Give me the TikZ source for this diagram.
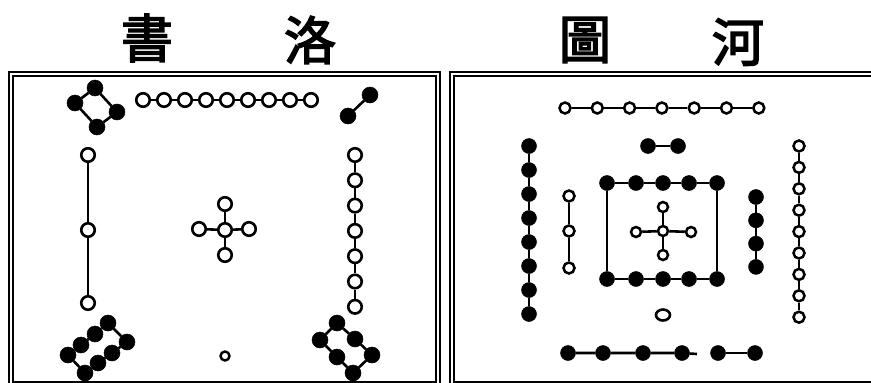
\documentclass[tikz,border=0pt]{standalone}
\usepackage{fontspec}
\usetikzlibrary{shapes.geometric}
\newfontfamily\cjk[AutoFakeBold=3]{Noto Sans CJK TC}
\tikzset{
  wc/.style={circle,draw=black,fill=white,line width=2.6pt,minimum size=13.5pt,inner sep=0pt},
  wcs/.style={wc,minimum size=11pt,line width=2.5pt},
  bc/.style={circle,fill=black,draw=black,line width=0.5pt,minimum size=16pt,inner sep=0pt},
  bcs/.style={bc,minimum size=15pt},
  link/.style={line width=2.6pt},
  frameline/.style={line width=1.4pt},
  title/.style={font=\cjk\fontsize{52}{52}\selectfont\bfseries,inner sep=0pt}
}
\begin{document}
\begin{tikzpicture}[x=1pt,y=-1pt]
\useasboundingbox (0,0) rectangle (871,383);
\clip (0,0) rectangle (871,383);
% titles
\node[title] (t1) at (147,38) {書};
\node[title] (t2) at (310,40) {洛};
\node[title] (t3) at (585,40) {圖};
\node[title] (t4) at (738,42) {河};
% frames
\draw[frameline] (9,72) rectangle (440,388);
\draw[frameline] (13,76) rectangle (436,382);
\draw[frameline] (450,72) rectangle (885,388);
\draw[frameline] (454,76) rectangle (880,382);

% ===== Luo Shu =====
% 4 top-left
\node[bc] (a1) at (95,88) {};
\node[bc] (a2) at (117,112) {};
\node[bc] (a3) at (97,127) {};
\node[bc] (a4) at (75,103) {};
\draw[link] (a1) -- (a2) -- (a3) -- (a4) -- (a1);
% 9 top
\foreach \i in {0,...,8} \node[wc] (n\i) at ({143+21*\i},100) {};
\foreach \i in {1,...,8}{\pgfmathtruncatemacro\p{\i-1}\draw[link] (n\p) -- (n\i);}
% 2 top-right
\node[bc] (b1) at (370,95) {};
\node[bc] (b2) at (348,116) {};
\draw[link] (b1) -- (b2);
% 3 left
\node[wc] (c1) at (88,155) {};
\node[wc] (c2) at (88,230) {};
\node[wc] (c3) at (88,303) {};
\draw[link] (c1) -- (c2) -- (c3);
% 5 centre
\node[wc] (d0) at (225,230) {};
\node[wc] (d1) at (225,204) {};
\node[wc] (d2) at (225,255) {};
\node[wc] (d3) at (199,229) {};
\node[wc] (d4) at (249,229) {};
\foreach \k in {1,...,4} \draw[link] (d0) -- (d\k);
% 7 right
\foreach \i in {0,...,6} \node[wc] (r\i) at (355,{155+25.3*\i}) {};
\foreach \i in {1,...,6}{\pgfmathtruncatemacro\p{\i-1}\draw[link] (r\p) -- (r\i);}
% 8 bottom-left
\node[bc] (e1) at (108,323) {};
\node[bc] (e2) at (95,334) {};
\node[bc] (e3) at (81,345) {};
\node[bc] (e4) at (68,355) {};
\node[bc] (f1) at (127,342) {};
\node[bc] (f2) at (112,353) {};
\node[bc] (f3) at (98,363) {};
\node[bc] (f4) at (85,373) {};
\draw[link] (e1) -- (e2) -- (e3) -- (e4) -- (f4) -- (f3) -- (f2) -- (f1) -- (e1);
% 1 bottom
\node[wc,minimum size=9pt,line width=2.4pt] (g1) at (225,356) {};
% 6 bottom-right
\node[bc] (h1) at (337,323) {};
\node[bc] (h2) at (355,339) {};
\node[bc] (h3) at (372,355) {};
\node[bc] (h4) at (353,373) {};
\node[bc] (h5) at (337,357) {};
\node[bc] (h6) at (320,340) {};
\draw[link] (h1) -- (h2) -- (h3) -- (h4) -- (h5) -- (h6) -- (h1);

% ===== He Tu =====
% 7 top
\foreach \i in {0,...,6} \node[wcs] (p\i) at ({565+32.3*\i},108) {};
\foreach \i in {1,...,6}{\pgfmathtruncatemacro\p{\i-1}\draw[link] (p\p) -- (p\i);}
% 2
\node[bcs] (q1) at (648,146) {};
\node[bcs] (q2) at (678,146) {};
\draw[link] (q1) -- (q2);
% 8 left outer
\foreach \i in {0,...,7} \node[bcs] (s\i) at (529,{146+24*\i}) {};
\foreach \i in {1,...,7}{\pgfmathtruncatemacro\p{\i-1}\draw[link] (s\p) -- (s\i);}
% 3 left inner
\node[wcs] (u1) at (569,196) {};
\node[wcs] (u2) at (569,231) {};
\node[wcs] (u3) at (569,268) {};
\draw[link] (u1) -- (u2) -- (u3);
% 10 square
\foreach \i/\x in {0/607,1/636,2/663,3/689,4/717}{
  \node[bcs] (v\i) at (\x,183) {};
  \node[bcs] (w\i) at (\x,279) {};
}
\foreach \i in {1,...,4}{\pgfmathtruncatemacro\p{\i-1}\draw[link] (v\p) -- (v\i); \draw[link] (w\p) -- (w\i);}
\draw[link] (v0) -- (w0);
\draw[link] (v4) -- (w4);
% 5 centre
\node[wcs,minimum size=10pt] (x0) at (663,231) {};
\node[wcs,minimum size=10pt] (x1) at (663,207) {};
\node[wcs,minimum size=10pt] (x2) at (663,255) {};
\node[wcs,minimum size=10pt] (x3) at (636,232) {};
\node[wcs,minimum size=10pt] (x4) at (691,232) {};
\foreach \k in {1,...,4} \draw[link] (x0) -- (x\k);
% 4 right inner
\foreach \i in {0,...,3} \node[bcs] (y\i) at (756,{197+23.3*\i}) {};
\foreach \i in {1,...,3}{\pgfmathtruncatemacro\p{\i-1}\draw[link] (y\p) -- (y\i);}
% 9 right outer
\foreach \i in {0,...,8} \node[wcs] (z\i) at (799,{146+21.4*\i}) {};
\foreach \i in {1,...,8}{\pgfmathtruncatemacro\p{\i-1}\draw[link] (z\p) -- (z\i);}
% 1
\node[ellipse,draw=black,fill=white,line width=2.6pt,minimum width=14pt,minimum height=11pt,inner sep=0pt] (o1) at (663,315) {};
% 6 bottom
\node[bcs] (k1) at (568,353) {};
\node[bcs] (k2) at (603,353) {};
\node[bcs] (k3) at (643,353) {};
\node[bcs] (k4) at (682,353) {};
\node[bcs] (k5) at (718,353) {};
\node[bcs] (k6) at (755,353) {};
\coordinate (kend) at (697,354);
\draw[link] (k1) -- (k2) -- (k3) -- (k4) -- (kend);
\draw[link] (k5) -- (k6);
\end{tikzpicture}
\end{document}
